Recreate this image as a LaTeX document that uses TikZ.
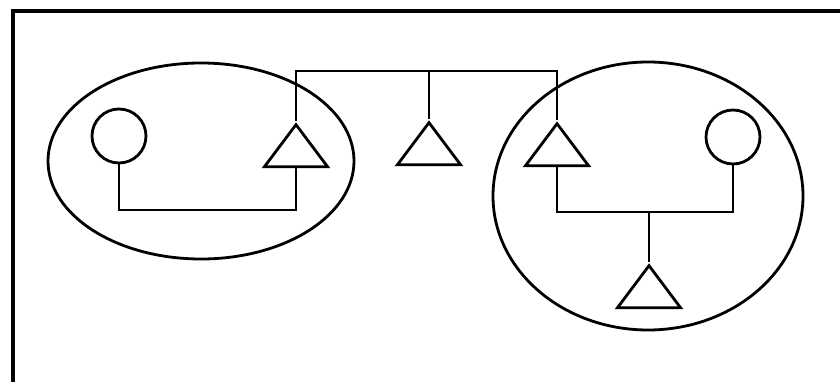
\documentclass[tikz,border=0pt]{standalone}
\usetikzlibrary{shapes.geometric}
\begin{document}
\begin{tikzpicture}[x=1pt,y=-1pt, line width=2.8pt,
  tri/.style={isosceles triangle, isosceles triangle stretches, shape border rotate=90,
    minimum width=63pt, minimum height=42pt, inner sep=0pt, draw, anchor=apex},
  circ/.style={circle, draw, minimum size=54pt, inner sep=0pt},
  grp/.style={ellipse, draw, inner sep=0pt},
  frame/.style={line width=3.4pt}]
\useasboundingbox (0,0) rectangle (840,382);
% frame
\coordinate (FB) at (13,382);
\coordinate (FC) at (13,11);
\coordinate (FR) at (840,11);
\draw[frame] (FB) -- (FC) -- (FR);
% groups
\node[grp, minimum width=306pt, minimum height=196pt] (E1) at (201,161) {};
\node[grp, minimum width=310pt, minimum height=268pt] (E2) at (648,196) {};
% circles
\node[circ] (C1) at (119,136) {};
\node[circ] (C2) at (733,137) {};
% triangles
\node[tri] (T1) at (296,121) {};
\node[tri] (T2) at (429,119) {};
\node[tri] (T3) at (557,120) {};
\node[tri] (T4) at (649,262) {};
% helper levels
\coordinate (Bus) at (0,71);
\coordinate (L1) at (0,210);
\coordinate (L2) at (0,212);
% connectors
\draw (T1.apex) -- (T1.apex |- Bus) -| (T3.apex);
\draw (T2.apex) -- (T2.apex |- Bus);
\draw (C1.south) -- (C1.south |- L1) -| (T1.south);
\draw (C2.south) -- (C2.south |- L2) -| (T3.south);
\draw (T4.apex) -- (T4.apex |- L2);
\end{tikzpicture}
\end{document}
